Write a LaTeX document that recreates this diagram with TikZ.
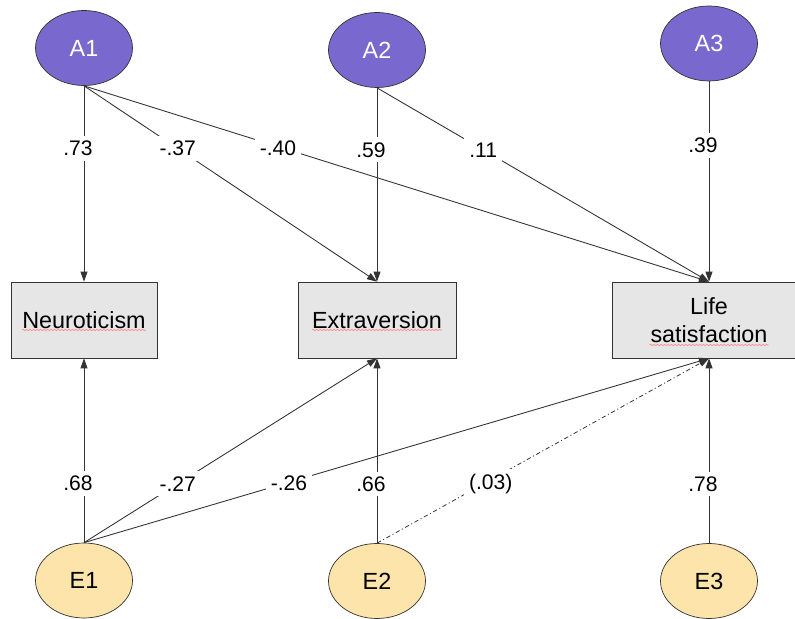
\documentclass[tikz,border=0pt]{standalone}
\usepackage{fontspec}
\setmainfont{Liberation Sans}
\usetikzlibrary{arrows.meta, positioning, calc, shapes.geometric, decorations.pathmorphing}
\definecolor{latentpurple}{RGB}{121,105,206}
\definecolor{erroryellow}{RGB}{252,228,170}
\definecolor{boxgray}{RGB}{230,230,230}

\begin{document}
\begin{tikzpicture}[
        latent/.style={draw=black!80, ellipse, fill=latentpurple, inner sep=0pt, minimum width=1.94cm, minimum height=1.5cm, text=white, font=\fontsize{13.3}{15}\selectfont},
        err/.style={latent, fill=erroryellow, text=black},
        obs/.style={draw=black!80, fill=boxgray, minimum height=1.52cm, align=center, font=\fontsize{13.3}{16}\selectfont},
        path/.style={-{Triangle[length=2mm,width=1.4mm]}, line width=0.5pt, draw=black!80},
        weak/.style={path, line width=0.45pt, dash pattern=on 2.5pt off 1.5pt on 0.6pt off 1.5pt},
        coef/.style={fill=white, inner sep=0.1cm, pos=0.32, font=\fontsize{12}{14}\selectfont},
        vcoef/.style={coef, xshift=-0.12cm},
        squiggle/.style={draw=red!45, line width=0.4pt, decorate, decoration={snake, amplitude=0.35pt, segment length=2pt}}
    ]
        \clip (0,0) rectangle (15.9,12.38);

        \node[latent] (a1) at (1.68,11.42) {A1};
        \node[latent] (a2) at (7.54,11.38) {A2};
        \node[latent] (a3) at (14.18,11.51) {A3};

        \node[obs, minimum width=2.92cm] (neu) at (1.68,5.98) {Neuroticism};
        \node[obs, minimum width=3.16cm] (ext) at (7.54,5.98) {Extraversion};
        \node[obs, minimum width=3.88cm] (ls) at (14.18,5.98) {Life\\satisfaction};

        \node[err] (e1) at (1.68,0.77) {E1};
        \node[err] (e2) at (7.54,0.76) {E2};
        \node[err] (e3) at (14.18,0.76) {E3};

        % spell-check marks
        \draw[squiggle] ($(neu.center)+(-1.24,-0.2)$) -- ++(2.48,0);
        \draw[squiggle] ($(ext.center)+(-1.3,-0.2)$) -- ++(2.6,0);
        \draw[squiggle] ($(ls.center)+(-1.19,-0.5)$) -- ++(2.38,0);

        \draw[path] (a1.south) -- node[vcoef] {.73} (neu.north);
        \draw[path] (a1.south) -- node[coef] {-.37} (ext.north);
        \draw[path] (a1.south) -- node[vcoef] {-.40} (ls.north);
        \draw[path] (a2.south) -- node[vcoef] {.59} (ext.north);
        \draw[path] (a2.south) -- node[coef] {.11} (ls.north);
        \draw[path] (a3.south) -- node[vcoef] {.39} (ls.north);

        \draw[path] (e1.north) -- node[vcoef] {.68} (neu.south);
        \draw[path] (e1.north) -- node[coef] {-.27} (ext.south);
        \draw[path] (e1.north) -- node[coef, xshift=0.1cm] {-.26} (ls.south);
        \draw[path] (e2.north) -- node[vcoef] {.66} (ext.south);
        \draw[weak] (e2.north) -- node[coef, xshift=0.15cm] {(.03)} (ls.south);
        \draw[path] (e3.north) -- node[vcoef] {.78} (ls.south);
    \end{tikzpicture}
\end{document}
